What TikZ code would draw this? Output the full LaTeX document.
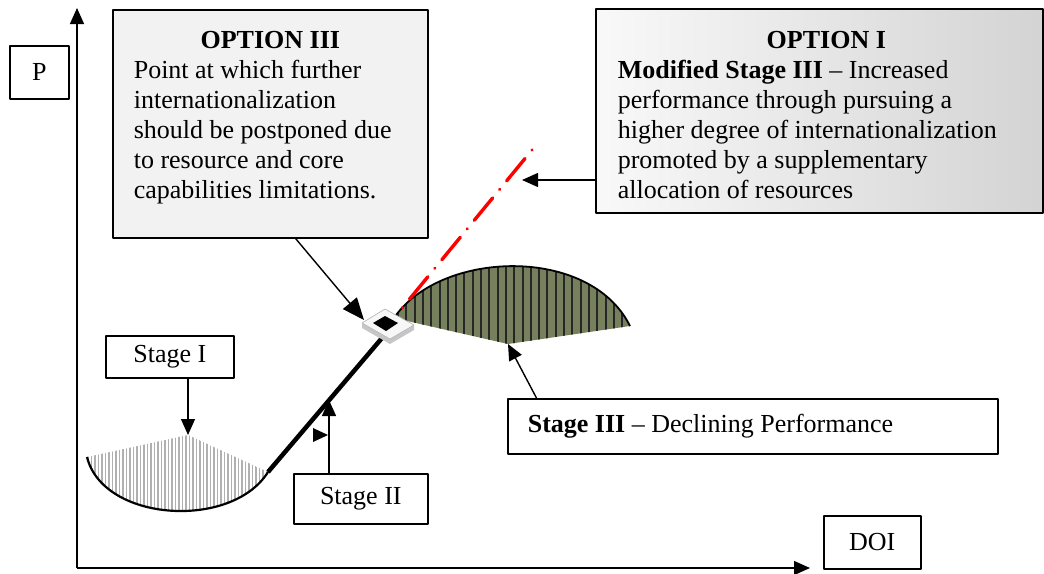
\documentclass[tikz,border=0pt]{standalone}
\usepackage{fontspec}
\setmainfont{Liberation Serif}
\usetikzlibrary{arrows.meta,calc}
\definecolor{olivefill}{HTML}{76805C}
\begin{document}
\begin{tikzpicture}[x=1pt,y=-1pt,>={Triangle[length=16pt,width=14pt]},line join=round,
  box/.style={draw=black,line width=1.6pt,inner sep=0pt,anchor=north west,font=\fontsize{26}{30}\selectfont},
  con/.style={->,line width=1.4pt},
  bigcon/.style={-{Triangle[length=22pt,width=18pt]},line width=1.4pt}]
\useasboundingbox (0,0) rectangle (1044,573);
\def\ox{77} \def\oy{568} % goc toa do
% truc
\coordinate (O) at (\ox,\oy);
\coordinate (ytip) at (\ox,8);
\coordinate (xtip) at (810,\oy);
\draw[con] (O)--(ytip);
\draw[con] (O)--(xtip);
\node[box,minimum width=59pt,minimum height=53pt] (P) at (9,45) {P};
\node[box,minimum width=97pt,minimum height=53pt] (DOI) at (823,515) {DOI};
% Stage I
\coordinate (s1l) at (87,457); \coordinate (s1top) at (188,435); \coordinate (s1r) at (268,472);
\begin{scope}
\clip (s1l)--(s1top)--(s1r) .. controls (232,530) and (103,522) .. (s1l);
\foreach \x in {88,91.5,...,270} \draw[gray!62,line width=1.8pt] (\x,420)--(\x,530);
\end{scope}
\draw[line width=2.2pt] (s1l) .. controls (103,522) and (232,530) .. (s1r);
% Stage II
\coordinate (s2top) at (382,338);
\draw[line width=4.5pt] (s1r)--(s2top);
% Stage III
\coordinate (s3l) at (394,318); \coordinate (s3r) at (630,326); \coordinate (s3b) at (508,344);
\begin{scope}
\clip (s3l) .. controls (440,250) and (590,245) .. (s3r)--(s3b)--cycle;
\fill[olivefill] (380,240) rectangle (640,350);
\foreach \x in {398,406.3,...,632} \draw[black!85,line width=2pt] (\x,240)--(\x,350);
\end{scope}
\draw[line width=1.8pt] (s3l) .. controls (440,250) and (590,245) .. (s3r);
% Option I
\coordinate (redtop) at (532,150);
\draw[red,line width=3.4pt,line cap=round,dash pattern=on 0.01pt off 11pt on 29pt off 11pt] (redtop)--(s3l);
% diem dung
\begin{scope}[shift={(388,324)}]
\fill[gray!45] (-26,-1)--(2,15)--(26,1)--(26,6)--(2,20)--(-26,4)--cycle;
\filldraw[fill=gray!6,draw=gray!60,line width=0.6pt] (-26,-1)--(-3,-15)--(26,1)--(2,15)--cycle;
\fill[black] (-15,-1)--(-3,-8)--(10,-1)--(-2,7)--cycle;
\end{scope}
% hop chu
\node[box,fill=gray!10] (opt3) at (112,9) {\parbox[c][228pt][t]{315pt}{\vspace{21pt}\centering\textbf{OPTION III}\par
  \raggedright\leftskip=21pt Point at which further\\internationalization\\should be postponed due\\to resource and core\\capabilities limitations.}};
\node[box,left color=gray!5,right color=gray!34] (opt1) at (595,8) {\parbox[c][204pt][t]{447pt}{\vspace{22pt}\centering\hspace*{14pt}\textbf{OPTION I}\par
  \raggedright\leftskip=22pt \textbf{Modified Stage III} -- Increased\\performance through pursuing a\\higher degree of internationalization\\promoted by a supplementary\\allocation of resources}};
\node[box,minimum width=128pt,minimum height=42pt] (stage1) at (105,335) {Stage I};
\node[box,minimum width=134pt,minimum height=50pt] (stage2) at (293,473) {Stage II};
\node[box] (stage3) at (507,398) {\parbox[c][55pt][c]{490pt}{\hspace*{20pt}\textbf{Stage III} -- Declining Performance}};
% mui ten
\coordinate (tile) at (364,320);
\coordinate (s2arr) at (329,400);
\coordinate (redpt) at (522,180);
\draw[con] (stage1.south -| s1top)--(s1top);
\draw[con] (stage2.north -| s2arr)--(s2arr);
\fill (s2arr) ++(-1,35)--++(-15,-7)--++(0,14)--cycle;
\draw[bigcon] ($(opt3.south west)!0.58!(opt3.south east)$)--(tile);
\draw[con] ($(stage3.north west)!0.06!(stage3.north east)$)--(s3b);
\draw[con] (opt1.west |- redpt)--(redpt);
\end{tikzpicture}
\end{document}
